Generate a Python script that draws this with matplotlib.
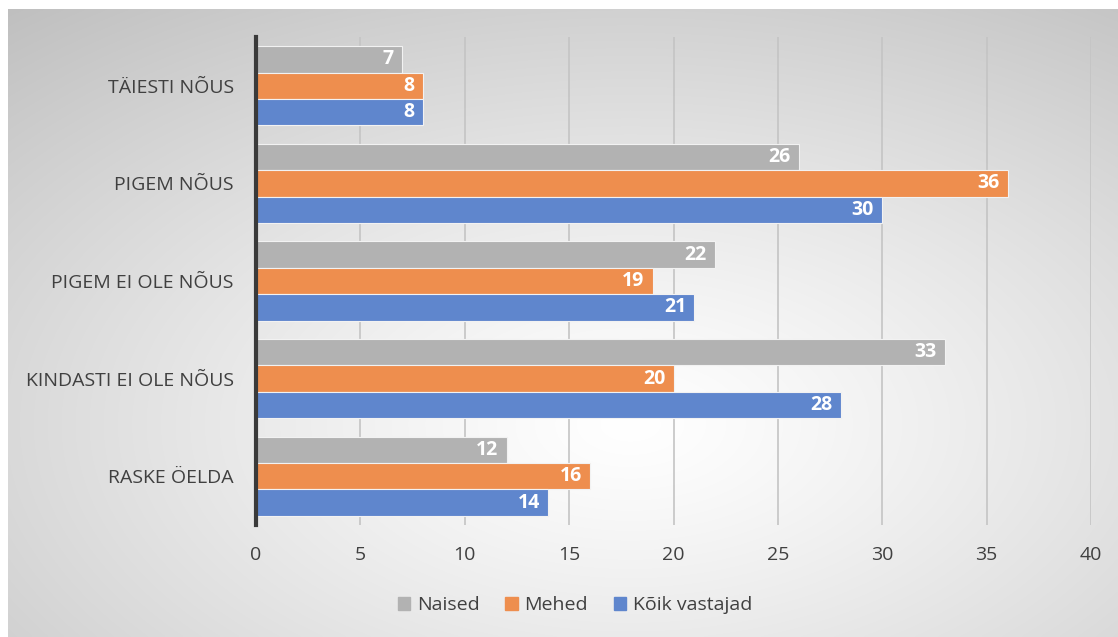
import numpy as np
import matplotlib
matplotlib.use("Agg")
import matplotlib.pyplot as plt

categories = ["TÄIESTI NÕUS", "PIGEM NÕUS", "PIGEM EI OLE NÕUS", "KINDASTI EI OLE NÕUS", "RASKE ÖELDA"]
series_names = ["Naised", "Mehed", "Kõik vastajad"]
naised = [7, 26, 22, 33, 12]
mehed = [8, 36, 19, 20, 16]
koik = [8, 30, 21, 28, 14]
colors = ["#B2B2B2", "#EE8E4E", "#5F86CD"]
xticks = [0, 5, 10, 15, 20, 25, 30, 35, 40]

plt.rcParams['font.family'] = ['Open Sans', 'DejaVu Sans']
W, H = 1118, 637
fig = plt.figure(figsize=(W / 100, H / 100), dpi=100)
fig.patch.set_facecolor("white")

# background radial gradient (starts slightly in from the top-left)
bg = fig.add_axes([8 / W, 0, 1 - 8 / W, 1 - 9 / H])
bg.set_axis_off()
yy, xx = np.mgrid[0:300, 0:520]
cx, cy = 0.56 * 520, 0.66 * 300
r = np.sqrt(((xx - cx) / 520) ** 2 + ((yy - cy) / 300) ** 2)
r = r / r.max()
val = 1.0 - 0.25 * r ** 1.2
img = np.dstack([val, val, val])
bg.imshow(img, aspect="auto", extent=[0, 1, 0, 1], origin="upper", interpolation="bilinear")
bg.set_zorder(-10)

ax = fig.add_axes([256 / W, 1 - 525 / H, (1091 - 256) / W, (525 - 37) / H])
ax.patch.set_alpha(0)

y = np.arange(len(categories))
h = 0.27
data = [naised, mehed, koik]
offsets = [-h, 0, h]
for vals, off, col, name in zip(data, offsets, colors, series_names):
    ax.barh(y + off, vals, height=h, color=col, edgecolor="#F2F2F2", linewidth=0.8,
            label=name, zorder=3)
    for yi, v in zip(y + off, vals):
        ax.annotate(str(v), xy=(v, yi), xytext=(-6, 0), textcoords="offset points",
                    ha="right", va="center", color="white", fontsize=14,
                    fontweight="bold", zorder=4)

ax.set_ylim(len(categories) - 0.5, -0.5)
ax.set_xlim(0, 40)
ax.set_xticks(xticks)
ax.set_yticks(y)
ax.set_yticklabels(categories)
ax.tick_params(axis="both", length=0, labelsize=14, colors="#404040")
ax.tick_params(axis="y", pad=16)
ax.tick_params(axis="x", pad=15)
ax.grid(axis="x", color="#C4C4C4", linewidth=1.2, zorder=1)
ax.set_axisbelow(True)
for s in ["top", "right", "bottom"]:
    ax.spines[s].set_visible(False)
ax.spines["left"].set_color("#3A3A3A")
ax.spines["left"].set_linewidth(3)
ax.spines["left"].set_zorder(5)

handles = [plt.Rectangle((0, 0), 1, 1, color=c) for c in colors]
fig.legend(handles, series_names, loc="center", bbox_to_anchor=(575 / W, 1 - 605 / H), ncol=3,
           frameon=False, handlelength=0.65, handleheight=0.65, handletextpad=0.35,
           columnspacing=1.3, fontsize=14, labelcolor="#404040")

fig.savefig("out.png", dpi=100)
